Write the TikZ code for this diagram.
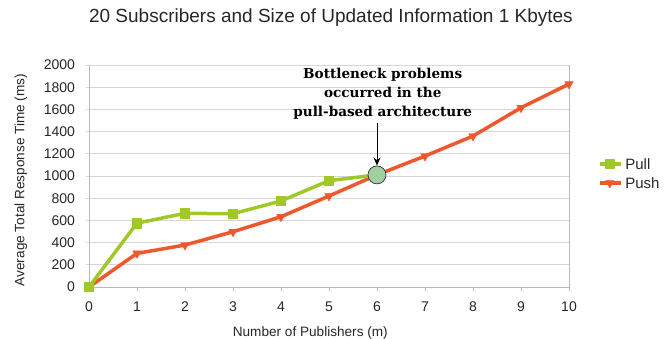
\documentclass[tikz,border=0pt]{standalone}
\usepackage{fontspec}
\setmainfont{Liberation Sans}
\newfontfamily\notefont{DejaVu Serif}
\usetikzlibrary{plotmarks,arrows.meta,positioning}
\definecolor{pullgreen}{RGB}{160,200,40}
\definecolor{pushred}{RGB}{238,88,44}
\definecolor{gridgray}{RGB}{215,215,215}
\definecolor{axisgray}{RGB}{185,185,185}
\definecolor{bnfill}{RGB}{160,208,160}
\tikzset{
  grid line/.style={gridgray, line width=0.8pt},
  tick label/.style={font=\fontsize{14}{14}\selectfont, text=black!85},
  pullline/.style={pullgreen, line width=3.5pt, line join=round,
    mark=square*, mark size=4.6pt, mark options={pullgreen, line width=0.4pt}},
  pushline/.style={pushred, line width=3.5pt, line join=round,
    mark=triangle*, mark size=5pt, mark options={pushred, line width=0.4pt, rotate=180}},
}
\begin{document}
\begin{tikzpicture}[x=48pt, y=0.111pt]
        \useasboundingbox (-89pt,-52pt) rectangle (578pt,287pt);

        % griglia e assi
        \foreach \v in {200,400,...,2000}
          \draw[grid line] (-0.07,\v) -- (10,\v);
        \draw[axisgray, line width=0.8pt] (0,0) -- (0,2000);
        \draw[axisgray, line width=0.8pt] (10,0) -- (10,2000);
        \draw[axisgray, line width=0.8pt] (-0.07,0) -- (10,0);
        \foreach \i in {0,...,10}{
          \draw[axisgray, line width=0.8pt] (\i,0) -- (\i,-40);
          \node[tick label] (xl\i) at (\i,-180) {\i};
        }
        \foreach \v in {0,200,...,2000}
          \node[tick label, anchor=east] (yl\v) at (-0.22,\v) {\v};

        % titoli
        \node[font=\fontsize{19}{19}\selectfont, text=black!85] (title) at (5.04,2423)
          {20 Subscribers and Size of Updated Information 1 Kbytes};
        \node[font=\fontsize{13.6}{13.6}\selectfont, text=black!85] (xtitle) at (4.61,-414)
          {Number of Publishers (m)};
        \node[font=\fontsize{13.6}{13.6}\selectfont, text=black!85, rotate=90] (ytitle) at (-1.42,964)
          {Average Total Response Time (ms)};

        % curve
        \draw[pushline] plot coordinates {(0,0) (1,303) (2,378) (3,498) (4,633) (5,820)
          (6,1010) (7,1180) (8,1360) (9,1615) (10,1829)};
        \draw[pullline] plot coordinates {(0,0) (1,575) (2,664) (3,660) (4,775) (5,958)};
        \draw[pullgreen, line width=3.5pt] (5,958) -- (6,1010);

        % collo di bottiglia
        \node[circle, draw=black!80, fill=bnfill, minimum size=18pt, inner sep=0pt,
          line width=0.7pt] (bn) at (6,1010) {};
        \node[font=\notefont\bfseries\fontsize{13.6}{19}\selectfont, align=center] (note) at (6.12,1739)
          {Bottleneck problems\\occurred in the\\pull-based architecture};
        \draw[-{Stealth[length=8pt,width=7pt]}, line width=0.8pt] (note.south -| bn) -- (bn.north);

        % legenda
        \node[font=\fontsize{15}{15}\selectfont, anchor=west, text=black!85] (pullkey) at (11.1,1108) {Pull};
        \node[font=\fontsize{15}{15}\selectfont, anchor=west, text=black!85] (pushkey) at (11.1,937) {Push};
        \draw[pullline, mark indices={2}] plot coordinates {(10.64,1108) (10.85,1108) (11.08,1108)};
        \draw[pushline, mark indices={2}] plot coordinates {(10.64,937) (10.85,937) (11.08,937)};
    \end{tikzpicture}
\end{document}
